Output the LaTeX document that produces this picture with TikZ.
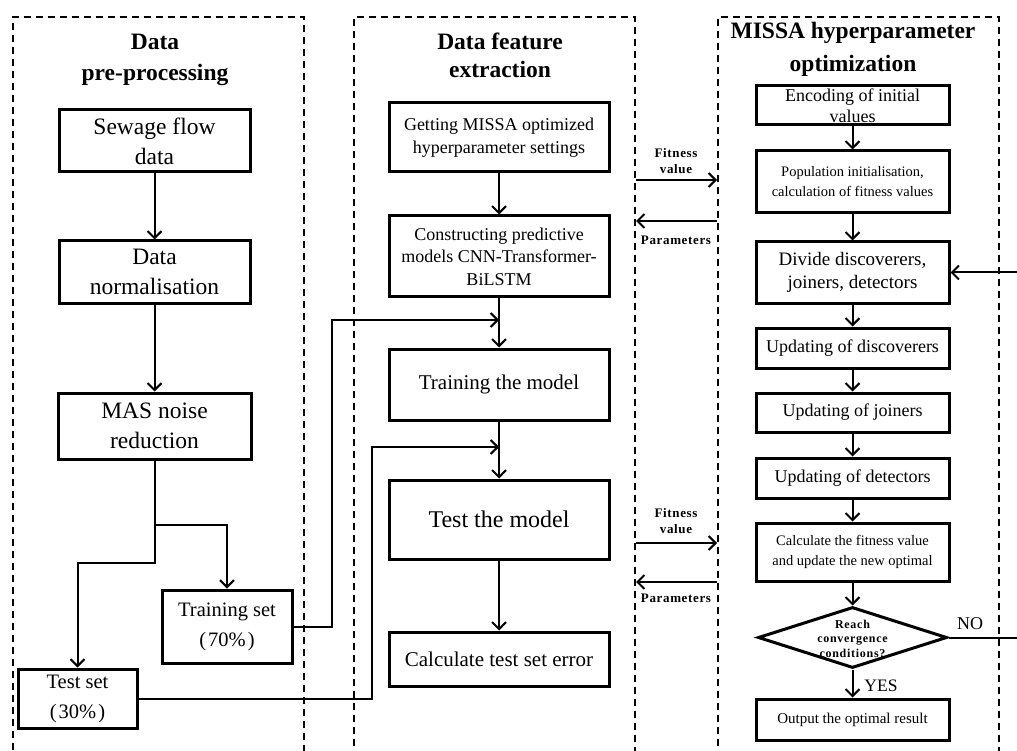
\documentclass[tikz,border=0pt]{standalone}
\usepackage{fontspec}
\setmainfont{Liberation Serif}
\usetikzlibrary{arrows.meta,shapes.geometric}
\begin{document}
\begin{tikzpicture}[x=1pt,y=-1pt,
  panel/.style={draw,dash pattern=on 7pt off 5pt,line width=2pt,rectangle,inner sep=0pt,anchor=north west},
  box/.style={draw,line width=3pt,rectangle,align=center,inner sep=0pt},
  arr/.style={line width=2pt,-{Straight Barb[length=7pt,width=14pt,line width=2pt]}},
  ttl/.style={font=\bfseries\fontsize{23.5}{30}\selectfont,align=center,inner sep=0pt},
  lbl/.style={font=\bfseries\fontsize{13}{16}\selectfont\addfontfeatures{LetterSpace=5},align=center,inner sep=0pt},
  fL/.style={font=\fontsize{23.5}{30}\selectfont},
  fM/.style={font=\fontsize{18}{22.5}\selectfont},
  fS/.style={font=\fontsize{14.5}{20}\selectfont},
]
\useasboundingbox (0,0) rectangle (1017,751);

% dashed stage panels
\node[panel,minimum width=291pt,minimum height=780pt] (pL) at (12,16) {};
\node[panel,minimum width=281pt,minimum height=780pt] (pM) at (353,16) {};
\node[panel,minimum width=281pt,minimum height=780pt] (pR) at (717,16) {};

% panel titles
\node[ttl,font=\bfseries\fontsize{23.5}{31}\selectfont] (tL) at (155,60) {Data\\pre-processing};
\node[ttl,font=\bfseries\fontsize{23.5}{28}\selectfont] (tM) at (500,55.5) {Data feature\\extraction};
\node[ttl,font=\bfseries\fontsize{23.5}{33}\selectfont] (tR) at (853,49) {MISSA hyperparameter\\optimization};

% pre-processing column
\node[box,fL,minimum width=191pt,minimum height=62pt] (sew) at (154.5,141) {Sewage flow\\data};
\node[box,fL,minimum width=191pt,minimum height=62pt] (norm) at (154.5,272) {Data\\normalisation};
\node[box,fL,minimum width=193pt,minimum height=66pt] (mas) at (154.5,426) {MAS noise\\reduction};
\node[box,font=\fontsize{20.5}{30}\selectfont,minimum width=130pt,minimum height=73pt] (train) at (227,626.5) {Training set\\(\kern2pt70\%\kern2pt)};
\node[box,font=\fontsize{20.5}{30}\selectfont,minimum width=119pt,minimum height=59pt] (test) at (77.5,698.5) {Test set\\(\kern2pt30\%\kern2pt)};

% feature extraction column
\node[box,fM,minimum width=220pt,minimum height=69pt] (get) at (499,137.5) {Getting MISSA optimized\\hyperparameter settings};
\node[box,fM,minimum width=220pt,minimum height=81pt] (cons) at (499,256.5) {Constructing predictive\\models CNN-Transformer-\\BiLSTM};
\node[box,font=\fontsize{21}{25}\selectfont,minimum width=220pt,minimum height=71pt] (trm) at (499,384.5) {Training the model};
\node[box,font=\fontsize{24}{28}\selectfont,minimum width=220pt,minimum height=79pt] (tsm) at (499,519.5) {Test the model};
\node[box,font=\fontsize{21}{25}\selectfont,minimum width=220pt,minimum height=54pt] (err) at (499,659) {Calculate test set error};

% optimisation column
\node[box,font=\fontsize{18}{21}\selectfont,minimum width=193pt,minimum height=39pt] (enc) at (852.5,105.5) {Encoding of initial\\values};
\node[box,fS,minimum width=193pt,minimum height=62pt] (pop) at (852.5,182) {Population initialisation,\\calculation of fitness values};
\node[box,font=\fontsize{19}{23}\selectfont,minimum width=193pt,minimum height=61pt] (div) at (852.5,272.5) {Divide discoverers,\\joiners, detectors};
\node[box,fM,minimum width=193pt,minimum height=40pt] (upd) at (852.5,348) {Updating of discoverers};
\node[box,fM,minimum width=193pt,minimum height=39pt] (upj) at (852.5,412.5) {Updating of joiners};
\node[box,fM,minimum width=193pt,minimum height=40pt] (ups) at (852.5,478) {Updating of detectors};
\node[box,fS,minimum width=193pt,minimum height=58pt] (fit) at (852.5,552) {Calculate the fitness value\\and update the new optimal};
\node[draw,line width=3pt,diamond,inner sep=0pt,minimum width=189pt,minimum height=61pt] (dia) at (852.5,637.5) {};
\node[font=\bfseries\fontsize{12}{14.5}\selectfont\addfontfeatures{LetterSpace=6},align=center,inner sep=0pt] (diat) at (852.5,638.5) {Reach\\convergence\\conditions?};
\node[box,font=\fontsize{15}{18}\selectfont,minimum width=193pt,minimum height=41pt] (out) at (852.5,719.5) {Output the optimal result};

% branch labels
\node[font=\fontsize{18}{20}\selectfont,inner sep=0pt] (no) at (970,624) {NO};
\node[font=\fontsize{17.5}{20}\selectfont,inner sep=0pt] (yes) at (881,686) {YES};

% exchange labels between the panels
\node[lbl] (fv1) at (676,161) {Fitness\\value};
\node[lbl] (pa1) at (676,240) {Parameters};
\node[lbl] (fv2) at (676,521) {Fitness\\value};
\node[lbl] (pa2) at (676,598) {Parameters};

% helper coordinates
\coordinate (r1) at (0,180);
\coordinate (r2) at (0,221);
\coordinate (r3) at (0,543);
\coordinate (r4) at (0,582);
\coordinate (s1) at (154.5,525);
\coordinate (s2) at (154.5,563);
\coordinate (jt) at (499,320);
\coordinate (js) at (499,447);
\coordinate (bt) at (332,0);
\coordinate (bs) at (372,0);
\coordinate (lx) at (1035,0);

% pre-processing flow
\draw[arr] (sew) -- (norm);
\draw[arr] (norm) -- (mas);
\draw[arr] (mas.south) -- (s1) -| (train.north);
\draw[arr] (s1) -- (s2) -| (test.north);
\draw[arr] (train.east) -| (bt |- jt) -- (jt);
\draw[arr] (test.east) -| (bs |- js) -- (js);

% feature extraction flow
\draw[arr] (get) -- (cons);
\draw[arr] (cons) -- (trm);
\draw[arr] (trm) -- (tsm);
\draw[arr] (tsm) -- (err);

% exchange with the optimiser
\draw[arr] (pM.east |- r1) -- (pR.west |- r1);
\draw[arr] (pR.west |- r2) -- (pM.east |- r2);
\draw[arr] (pM.east |- r3) -- (pR.west |- r3);
\draw[arr] (pR.west |- r4) -- (pM.east |- r4);

% optimisation flow
\draw[arr] (enc) -- (pop);
\draw[arr] (pop) -- (div);
\draw[arr] (div) -- (upd);
\draw[arr] (upd) -- (upj);
\draw[arr] (upj) -- (ups);
\draw[arr] (ups) -- (fit);
\draw[arr] (fit) -- (dia);
\draw[arr] (dia) -- (out);
\draw[arr] (dia.east) -- (dia.east -| lx) |- (div.east);
\end{tikzpicture}
\end{document}
